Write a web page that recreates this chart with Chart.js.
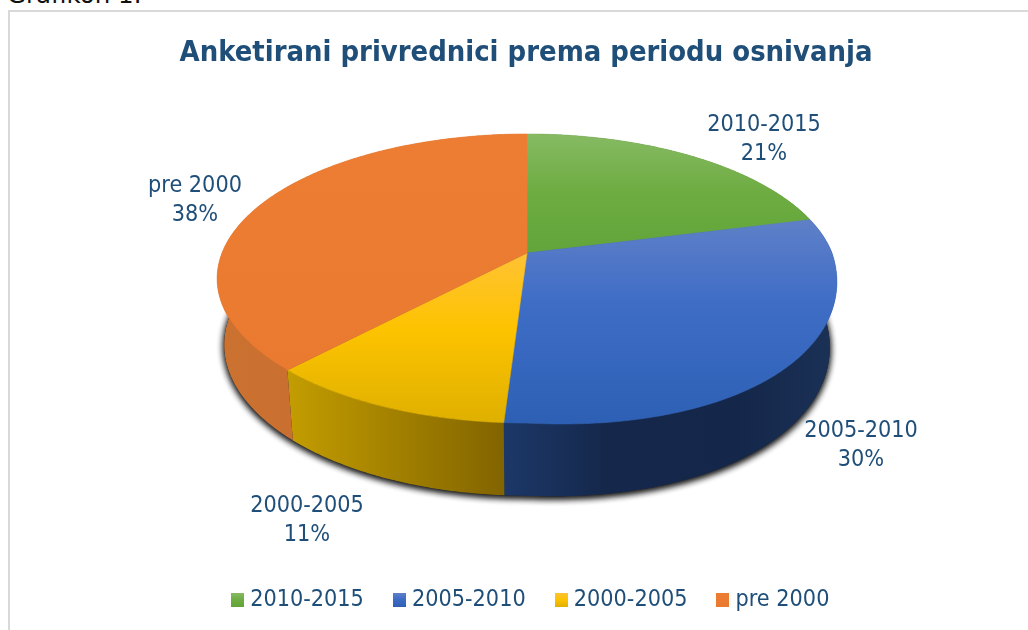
<!DOCTYPE html>
<html><head><meta charset="utf-8">
<style>
html,body{margin:0;padding:0;width:1028px;height:630px;overflow:hidden;background:#fff}
#cap{position:absolute;left:7px;top:-20px;font:24.5px "DejaVu Sans",sans-serif;color:#111;line-height:30px;white-space:nowrap}
#frame{position:absolute;left:8px;top:10px;width:1040px;height:640px;border:2px solid #d9d9d9;box-sizing:border-box}
canvas{position:absolute;left:0;top:0}
</style>
<script src="https://cdn.jsdelivr.net/npm/chart.js@4"></script>
</head><body>
<div id="cap">Grafikon 1.</div>
<div id="frame"></div>
<canvas id="c" width="1028" height="630"></canvas>
<script>
const categories = ["2010-2015", "2005-2010", "2000-2005", "pre 2000"];
const shares = [21, 30, 11, 38];
const chartTitle = "Anketirani privrednici prema periodu osnivanja";

const FONT = '"DejaVu Sans Condensed","DejaVu Sans",sans-serif';
const INK = "#1f4e79";
const baseColors = ["#6cab3f", "#3b6cc6", "#fdc300", "#ed7d31"];
const topStops = [
  [[0,"#86ba63"],[0.5,"#6dac41"],[1,"#62a53a"]],
  [[0,"#5f80c8"],[0.4,"#3f6dc6"],[1,"#2d60b5"]],
  [[0,"#ffc234"],[0.45,"#fdc300"],[1,"#dfb000"]],
  [[0,"#ec7d32"],[1,"#e97a2f"]]
];
const sideStops = [
  [[0,"#3f6a28"],[1,"#3f6a28"]],
  [[0,"#1c3868"],[0.3,"#15284c"],[0.7,"#14274a"],[1,"#1b3156"]],
  [[0,"#c39d00"],[1,"#826400"]],
  [[0,"#cc7231"],[1,"#bf652a"]]
];
const labelSpots = [[764,125],[861,431],[307,506],[195,186]];
const legendShift = 7;

/* perspective disc: maps the library's slice angles on to the tilted pie */
const apexX = 527, apexY = 253, halfW = 305, halfH = 140, tilt = 0.1765;
const lowX = 0.977, lowY = 1.045, lowDrop = 65;
const bulgeTop = 10, bulgeLow = 8;
function rim(a, lower){
  const d = 1 - tilt*Math.sin(a);
  const X = halfW*Math.cos(a)/d, Y = halfH*Math.sin(a)/d;
  const t = ((a % (2*Math.PI)) + 2*Math.PI) % (2*Math.PI);
  const bulge = t < Math.PI/2 ? Math.sin(2*t) : 0;
  return lower
    ? [apexX + X*lowX, apexY + lowDrop + Y*lowY + bulgeLow*bulge]
    : [apexX + X, apexY + Y + bulgeTop*bulge];
}
function arcPts(a0, a1, lower){
  const n = Math.max(2, Math.ceil((a1-a0)/0.01)), out = [];
  for(let i=0;i<=n;i++) out.push(rim(a0+(a1-a0)*i/n, lower));
  return out;
}
function trace(ctx, pts){
  ctx.beginPath();
  pts.forEach((p,i)=> i ? ctx.lineTo(p[0],p[1]) : ctx.moveTo(p[0],p[1]));
  ctx.closePath();
}
function grad(ctx, x0,y0,x1,y1, stops){
  const g = ctx.createLinearGradient(x0,y0,x1,y1);
  stops.forEach(s=>g.addColorStop(s[0],s[1]));
  return g;
}
function swatch(stops, size_w, size_h){
  const cv = document.createElement("canvas");
  cv.width = size_w; cv.height = size_h;
  const x = cv.getContext("2d");
  x.fillStyle = grad(x,0,0,0,size_h,stops);
  x.fillRect(0,0,size_w,size_h);
  return cv;
}

const tiltedPie = {
  id: "tiltedPie",
  afterLayout(chart){
    chart.legend.left += legendShift;
    chart.legend.right += legendShift;
  },
  beforeDatasetDraw(chart, args){
    const ctx = chart.ctx, arcs = chart.getDatasetMeta(args.index).data;
    ctx.save();
    /* ground shadow */
    ctx.save();
    ctx.shadowColor = "rgba(15,15,15,0.9)";
    ctx.shadowBlur = 7;
    ctx.shadowOffsetY = 2;
    ctx.fillStyle = "#333";
    trace(ctx, arcPts(0, Math.PI*2, true));
    ctx.fill(); ctx.fill();
    ctx.restore();
    /* walls */
    arcs.forEach((arc,i)=>{
      const up = arcPts(arc.startAngle, arc.endAngle, false);
      const lo = arcPts(arc.startAngle, arc.endAngle, true).reverse();
      const poly = up.concat(lo);
      const xs = poly.map(p=>p[0]);
      const x0 = Math.min(...xs), x1 = Math.max(...xs);
      ctx.fillStyle = grad(ctx, x0,0,x1,0, sideStops[i]);
      trace(ctx, poly); ctx.fill();
    });
    /* top faces */
    arcs.forEach((arc,i)=>{
      const poly = [[apexX,apexY]].concat(arcPts(arc.startAngle, arc.endAngle, false));
      const ys = poly.map(p=>p[1]);
      const y0 = Math.min(...ys), y1 = Math.max(...ys);
      const g = grad(ctx, 0,y0,0,y1, topStops[i]);
      ctx.fillStyle = g; ctx.strokeStyle = g; ctx.lineWidth = 0.6;
      trace(ctx, poly); ctx.fill(); ctx.stroke();
    });
    /* data labels */
    ctx.font = "23.2px " + FONT;
    ctx.fillStyle = INK;
    ctx.textAlign = "center";
    ctx.textBaseline = "middle";
    categories.forEach((c,i)=>{
      ctx.fillText(c, labelSpots[i][0], labelSpots[i][1]);
      ctx.fillText(shares[i] + "%", labelSpots[i][0], labelSpots[i][1] + 29);
    });
    ctx.restore();
    return false;
  }
};

new Chart(document.getElementById("c"), {
  type: "pie",
  data: { labels: categories, datasets: [{ data: shares, backgroundColor: baseColors, borderWidth: 0 }] },
  plugins: [tiltedPie],
  options: {
    responsive: false,
    animation: false,
    layout: { padding: { left: 24, top: 30, bottom: 8 } },
    plugins: {
      tooltip: { enabled: false },
      title: {
        display: true, text: chartTitle, color: INK,
        font: { family: FONT, size: 28.9, weight: "bold" },
        padding: { top: 6, bottom: 10 }
      },
      legend: {
        position: "bottom",
        labels: {
          color: INK,
          font: { family: FONT, size: 23.2 },
          usePointStyle: true,
          pointStyleWidth: 2,
          padding: 34.5,
          generateLabels(chart){
            return categories.map((c,i)=>({
              text: c, fontColor: INK, index: i, lineWidth: 0,
              fillStyle: baseColors[i], strokeStyle: baseColors[i],
              pointStyle: swatch(topStops[i], 13, 14)
            }));
          }
        }
      }
    }
  }
});
</script>
</body></html>
